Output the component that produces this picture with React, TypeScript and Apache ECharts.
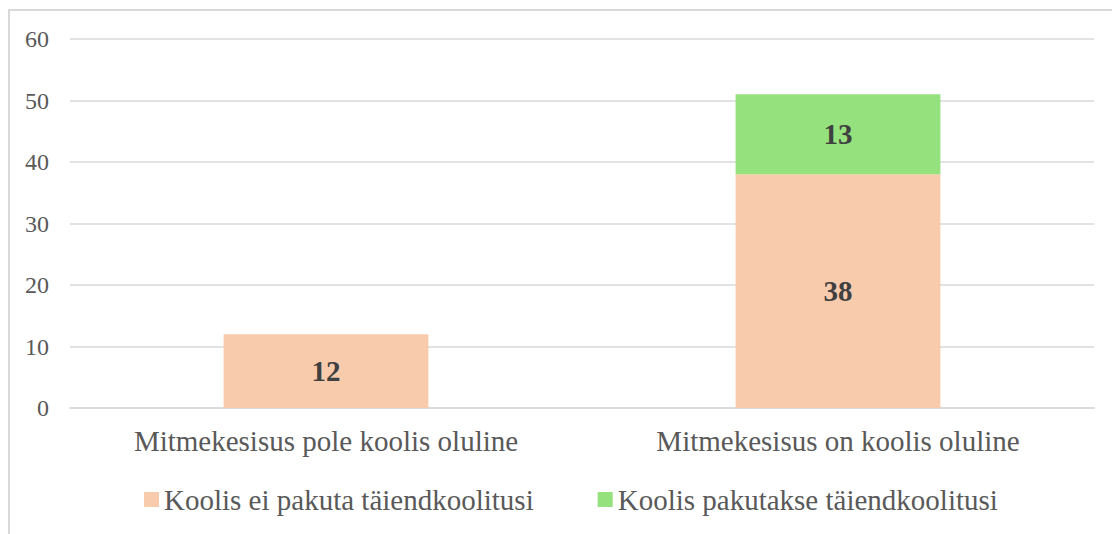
import React, { useEffect, useRef } from "react";
import * as echarts from "echarts";

const categories = ["Mitmekesisus pole koolis oluline", "Mitmekesisus on koolis oluline"];
const seriesNames = ["Koolis ei pakuta täiendkoolitusi", "Koolis pakutakse täiendkoolitusi"];
const notOffered = [12, 38];
const offered = [null, 13];
const colors = ["#F8CBAD", "#95E17D"];

const FONT = "Liberation Serif";

export default function App() {
  const ref = useRef<HTMLDivElement>(null);
  useEffect(() => {
    if (!ref.current) return;
    const chart = echarts.init(ref.current, null, { renderer: "svg" });
    const labelStyle = {
      show: true,
      position: "inside",
      fontFamily: FONT,
      fontWeight: "bold",
      fontSize: 29,
      color: "#404040",
    };
    chart.setOption({
      animation: false,
      backgroundColor: "#ffffff",
      textStyle: { fontFamily: FONT },
      graphic: [
        {
          type: "rect",
          shape: { x: 9, y: 10, width: 1300, height: 700 },
          style: { fill: "none", stroke: "#d9d9d9", lineWidth: 2 },
          silent: true,
          z: -1,
        },
      ],
      grid: { left: 70, right: 18, top: 39, bottom: 126, containLabel: false },
      legend: {
        left: 139,
        top: 480,
        itemWidth: 15,
        itemHeight: 15,
        itemGap: 64,
        icon: "rect",
        textStyle: { fontFamily: FONT, fontSize: 29, color: "#595959" },
        data: seriesNames,
      },
      xAxis: {
        type: "category",
        data: categories,
        axisLine: { show: true, lineStyle: { color: "#d9d9d9", width: 1.5 } },
        axisTick: { show: false },
        axisLabel: { fontFamily: FONT, fontSize: 29, color: "#595959", margin: 18 },
      },
      yAxis: {
        type: "value",
        min: 0,
        max: 60,
        interval: 10,
        axisLine: { show: false },
        axisTick: { show: false },
        splitLine: { lineStyle: { color: "#d9d9d9", width: 1.5 } },
        axisLabel: { fontFamily: FONT, fontSize: 24, color: "#595959", margin: 21 },
      },
      series: [
        {
          name: seriesNames[0],
          type: "bar",
          stack: "total",
          barWidth: "40%",
          data: notOffered,
          itemStyle: { color: colors[0] },
          label: labelStyle,
        },
        {
          name: seriesNames[1],
          type: "bar",
          stack: "total",
          barWidth: "40%",
          data: offered,
          itemStyle: { color: colors[1] },
          label: labelStyle,
        },
      ],
    });
    return () => chart.dispose();
  }, []);
  return (
    <div
      ref={ref}
      style={{ position: "absolute", left: 0, top: 0, width: 1112, height: 534 }}
    />
  );
}
